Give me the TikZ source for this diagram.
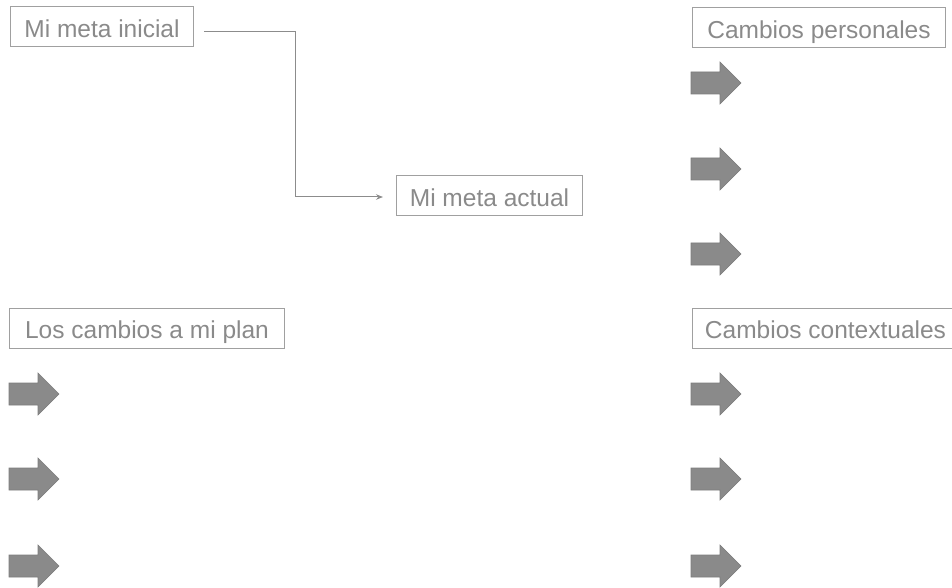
\documentclass[tikz,border=0pt]{standalone}
\usepackage{fontspec}
\setmainfont{Liberation Sans}
\usetikzlibrary{arrows.meta,calc}
\definecolor{txtgray}{HTML}{8A8A8A}
\definecolor{boxgray}{HTML}{A0A0A0}
\definecolor{linegray}{HTML}{8C8C8C}
\definecolor{arrfill}{HTML}{8A8A8A}
\definecolor{arrdraw}{HTML}{7C7C7C}
\tikzset{
  labelbox/.style={draw=boxgray, line width=1bp, text=txtgray, minimum height=40bp,
    inner sep=0pt, text height=21bp, text depth=0bp,
    font=\fontsize{24.5bp}{29bp}\selectfont, anchor=west},
  conn/.style={draw=linegray, line width=1bp, -{Stealth[length=7bp,width=5.5bp]}},
  blkarrow/.style={fill=arrfill, draw=arrdraw, line width=0.6bp, line join=miter}
}
\newcommand{\blockarrow}[2]{%
  \filldraw[blkarrow] (#1,#2-11) -- (#1+29,#2-11) -- (#1+29,#2-21) -- (#1+50,#2)
    -- (#1+29,#2+21) -- (#1+29,#2+11) -- (#1,#2+11) -- cycle;}
\begin{document}
\begin{tikzpicture}[x=1bp,y=-1bp]
\useasboundingbox (0,0) rectangle (952,588);
\clip (0,0) rectangle (952,588);
\node[labelbox, minimum width=183bp] (m1) at (10,27) {Mi meta inicial};
\node[labelbox, minimum width=186bp] (m2) at (396,196) {Mi meta actual};
\node[labelbox, minimum width=275bp] (plan) at (9,328) {Los cambios a mi plan};
\node[labelbox, minimum width=253bp] (pers) at (692,28) {Cambios personales};
\node[labelbox, minimum width=266bp] (ctx) at (692,328) {Cambios contextuales};
\coordinate (s) at ([xshift=10bp,yshift=-5bp]m1.east);
\coordinate (t) at ([xshift=-13bp,yshift=-1bp]m2.west);
\coordinate (k) at (295,0);
\draw[conn] (s) -| (k |- t) -- (t);
\foreach \yy in {83,169,254} {\blockarrow{691}{\yy}}
\foreach \yy in {394,479,566} {\blockarrow{9}{\yy}}
\foreach \yy in {394,479,566} {\blockarrow{691}{\yy}}
\end{tikzpicture}
\end{document}
